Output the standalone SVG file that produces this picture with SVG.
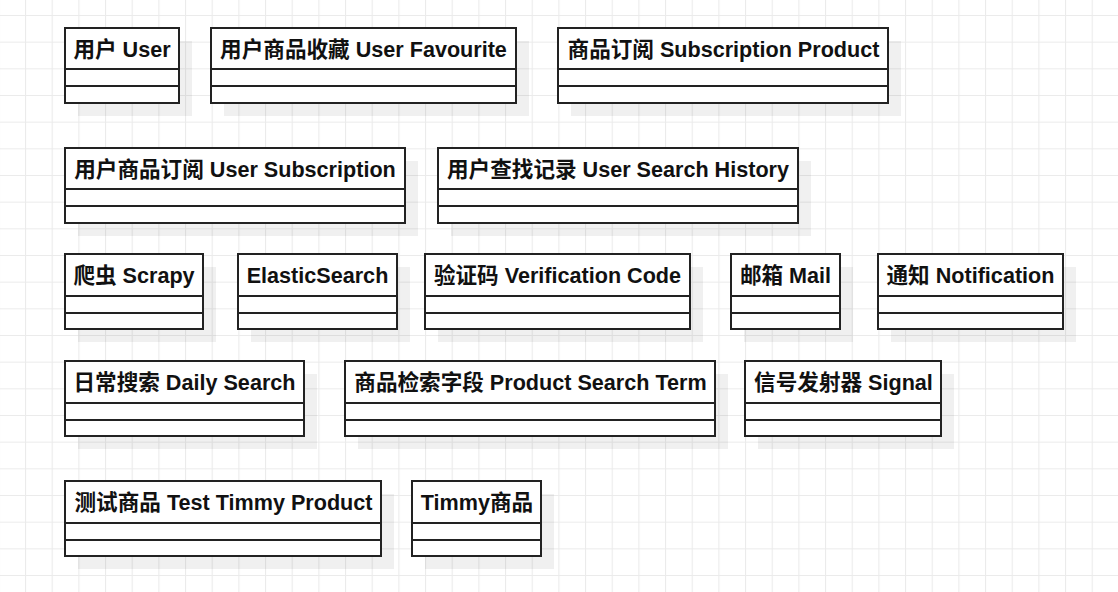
<svg xmlns="http://www.w3.org/2000/svg" width="1118" height="592" viewBox="0 0 1118 592">
<defs>
<pattern id="grid" x="25" y="15" width="26.667" height="26.667" patternUnits="userSpaceOnUse">
<path d="M0 0.5H26.667M0.5 0V26.667" fill="none" stroke="#ebebeb" stroke-width="1.2"/>
</pattern>
<style>
.sh{fill:#000;fill-opacity:0.06}
.bx{fill:#fff;stroke:#222;stroke-width:2}
.dv{stroke:#222;stroke-width:2;fill:none}
.t{font-family:"Liberation Sans","Noto Sans CJK SC",sans-serif;font-weight:bold;font-size:21.6px;fill:#111;text-anchor:middle}
</style>
</defs>
<rect width="1118" height="592" fill="#fff"/>
<rect width="1118" height="592" fill="url(#grid)"/>
<g id="connectors"/>
<g id="n1"><rect class="sh" x="78" y="41" width="114" height="75"/><rect class="bx" x="65" y="28" width="114" height="75"/><path class="dv" d="M65 69H180M65 86H180"/><text class="t" x="122" y="56.5">用户 User</text></g>
<g id="n2"><rect class="sh" x="224" y="41" width="305" height="75"/><rect class="bx" x="211" y="28" width="305" height="75"/><path class="dv" d="M211 69H517M211 86H517"/><text class="t" x="363.5" y="56.5">用户商品收藏 User Favourite</text></g>
<g id="n3"><rect class="sh" x="571" y="41" width="330" height="75"/><rect class="bx" x="558" y="28" width="330" height="75"/><path class="dv" d="M558 69H889M558 86H889"/><text class="t" x="723.5" y="56.5">商品订阅 Subscription Product</text></g>
<g id="n4"><rect class="sh" x="78" y="161" width="340" height="75"/><rect class="bx" x="65" y="148" width="340" height="75"/><path class="dv" d="M65 189H406M65 206H406"/><text class="t" x="235" y="176.5">用户商品订阅 User Subscription</text></g>
<g id="n5"><rect class="sh" x="451" y="161" width="360" height="75"/><rect class="bx" x="438" y="148" width="360" height="75"/><path class="dv" d="M438 189H799M438 206H799"/><text class="t" x="618" y="176.5">用户查找记录 User Search History</text></g>
<g id="n6"><rect class="sh" x="78" y="267" width="138" height="75"/><rect class="bx" x="65" y="254" width="138" height="75"/><path class="dv" d="M65 296H204M65 313H204"/><text class="t" x="134" y="282.5">爬虫 Scrapy</text></g>
<g id="n7"><rect class="sh" x="251" y="267" width="159" height="75"/><rect class="bx" x="238" y="254" width="159" height="75"/><path class="dv" d="M238 296H398M238 313H398"/><text class="t" x="317.5" y="282.5">ElasticSearch</text></g>
<g id="n8"><rect class="sh" x="438" y="267" width="265" height="75"/><rect class="bx" x="425" y="254" width="265" height="75"/><path class="dv" d="M425 296H691M425 313H691"/><text class="t" x="557.5" y="282.5">验证码 Verification Code</text></g>
<g id="n9"><rect class="sh" x="744" y="267" width="109" height="75"/><rect class="bx" x="731" y="254" width="109" height="75"/><path class="dv" d="M731 296H841M731 313H841"/><text class="t" x="785.5" y="282.5">邮箱 Mail</text></g>
<g id="n10"><rect class="sh" x="891" y="267" width="185" height="75"/><rect class="bx" x="878" y="254" width="185" height="75"/><path class="dv" d="M878 296H1064M878 313H1064"/><text class="t" x="970.5" y="282.5">通知 Notification</text></g>
<g id="n11"><rect class="sh" x="78" y="374" width="239" height="75"/><rect class="bx" x="65" y="361" width="239" height="75"/><path class="dv" d="M65 403H305M65 420H305"/><text class="t" x="184.5" y="389.5">日常搜索 Daily Search</text></g>
<g id="n12"><rect class="sh" x="358" y="374" width="370" height="75"/><rect class="bx" x="345" y="361" width="370" height="75"/><path class="dv" d="M345 403H716M345 420H716"/><text class="t" x="530.5" y="389.5">商品检索字段 Product Search Term</text></g>
<g id="n13"><rect class="sh" x="758" y="374" width="196" height="75"/><rect class="bx" x="745" y="361" width="196" height="75"/><path class="dv" d="M745 403H942M745 420H942"/><text class="t" x="843.5" y="389.5">信号发射器 Signal</text></g>
<g id="n14"><rect class="sh" x="78" y="494" width="316" height="75"/><rect class="bx" x="65" y="481" width="316" height="75"/><path class="dv" d="M65 523H382M65 540H382"/><text class="t" x="223.5" y="509.5">测试商品 Test Timmy Product</text></g>
<g id="n15"><rect class="sh" x="425" y="494" width="129" height="75"/><rect class="bx" x="412" y="481" width="129" height="75"/><path class="dv" d="M412 523H542M412 540H542"/><text class="t" x="477" y="509.5">Timmy商品</text></g>
</svg>
